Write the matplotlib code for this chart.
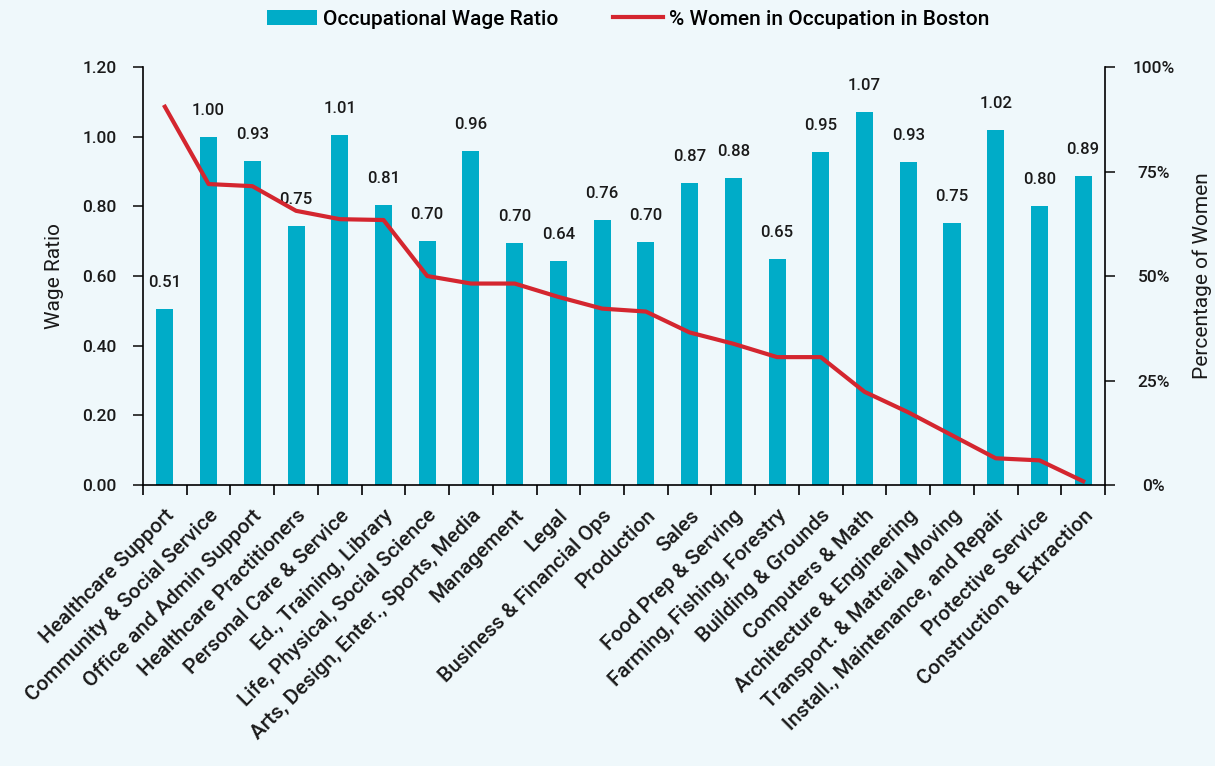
import matplotlib
matplotlib.use("Agg")
import matplotlib.pyplot as plt
from matplotlib.lines import Line2D
from matplotlib.patches import Patch
import matplotlib.ticker as mticker

plt.rcParams['font.family'] = ['Roboto', 'DejaVu Sans']
plt.rcParams['font.weight'] = 'medium'

# 数据
occupations = [
    "Healthcare Support", "Community & Social Service", "Office and Admin Support",
    "Healthcare Practitioners", "Personal Care & Service", "Ed., Training, Library",
    "Life, Physical, Social Science", "Arts, Design, Enter., Sports, Media",
    "Management", "Legal", "Business & Financial Ops", "Production", "Sales",
    "Food Prep & Serving", "Farming, Fishing, Forestry", "Building & Grounds",
    "Computers & Math", "Architecture & Engineering", "Transport. & Matreial Moving",
    "Install., Maintenance, and Repair", "Protective Service", "Construction & Extraction",
]
wage_ratio = [0.505, 1.00, 0.93, 0.745, 1.005, 0.805, 0.70, 0.958, 0.695, 0.643,
              0.76, 0.697, 0.868, 0.882, 0.65, 0.955, 1.072, 0.928, 0.752, 1.02,
              0.80, 0.888]
wage_labels = ["0.51", "1.00", "0.93", "0.75", "1.01", "0.81", "0.70", "0.96", "0.70",
               "0.64", "0.76", "0.70", "0.87", "0.88", "0.65", "0.95", "1.07", "0.93",
               "0.75", "1.02", "0.80", "0.89"]
pct_women = [90.5, 72.0, 71.5, 65.6, 63.6, 63.4, 50.0, 48.2, 48.2, 45.0, 42.2, 41.5,
             36.5, 33.8, 30.6, 30.6, 22.3, 17.4, 11.9, 6.4, 5.9, 0.9]

bg = '#eff8fb'
bar_color = '#00acc8'
line_color = '#d4262f'
text_color = '#1a1a1a'

fig = plt.figure(figsize=(12.15, 7.66), dpi=100, facecolor=bg)
ax = fig.add_axes([0.1177, 0.3668, 0.7918, 0.5457], facecolor=bg)
x = list(range(len(occupations)))

ax.bar(x, wage_ratio, width=0.39, color=bar_color, zorder=2)
for xi, v, lab in zip(x, wage_ratio, wage_labels):
    ax.annotate(lab, (xi, v), xytext=(0, 19), textcoords='offset points',
                ha='center', va='center', fontsize=12, color=text_color)

ax.set_xlim(-0.5, len(occupations) - 0.5)
ax.set_ylim(0, 1.2)
ax.set_yticks([0, 0.2, 0.4, 0.6, 0.8, 1.0, 1.2])
ax.yaxis.set_major_formatter(mticker.FormatStrFormatter('%.2f'))
ax.set_xticks([i - 0.5 for i in range(len(occupations) + 1)])
ax.set_xticklabels([])
ax.set_xticks(x, minor=True)
ax.set_xticklabels(occupations, minor=True, rotation=45, ha='right',
                   rotation_mode='anchor', fontsize=15, color=text_color)
ax.tick_params(axis='x', which='minor', length=0, pad=15)
ax.tick_params(axis='x', which='major', length=7, width=1.2, direction='out')
ax.tick_params(axis='y', length=7, width=1.2, labelsize=12.5, pad=12, colors=text_color)
for s in ['top', 'right']:
    ax.spines[s].set_visible(False)
for s in ['left', 'bottom']:
    ax.spines[s].set_linewidth(1.2)
ax.set_ylabel("Wage Ratio", fontsize=15, labelpad=13, color=text_color)

ax2 = ax.twinx()
ax2.plot(x, pct_women, color=line_color, linewidth=3, zorder=3)
ax2.set_ylim(0, 100)
ax2.set_yticks([0, 25, 50, 75, 100])
ax2.yaxis.set_major_formatter(mticker.FormatStrFormatter('%d%%'))
ax2.tick_params(axis='y', length=7, width=1.2, labelsize=12.5, pad=28, colors=text_color)
for lbl in ax2.get_yticklabels():
    lbl.set_ha('center')
for s in ['top', 'left', 'bottom']:
    ax2.spines[s].set_visible(False)
ax2.spines['right'].set_linewidth(1.2)
ax2.set_ylabel("Percentage of Women", fontsize=15, labelpad=13, color=text_color)

handles = [Patch(facecolor=bar_color, edgecolor='none'),
           Line2D([0], [0], color=line_color, linewidth=3)]
fig.legend(handles, ["Occupational Wage Ratio", "% Women in Occupation in Boston"],
           loc='upper center', bbox_to_anchor=(0.517, 1.012), ncol=2, frameon=False,
           fontsize=15, handlelength=2.4, handleheight=0.8, columnspacing=2.6,
           handletextpad=0.3)

fig.savefig("out.png", dpi=100, facecolor=bg)
